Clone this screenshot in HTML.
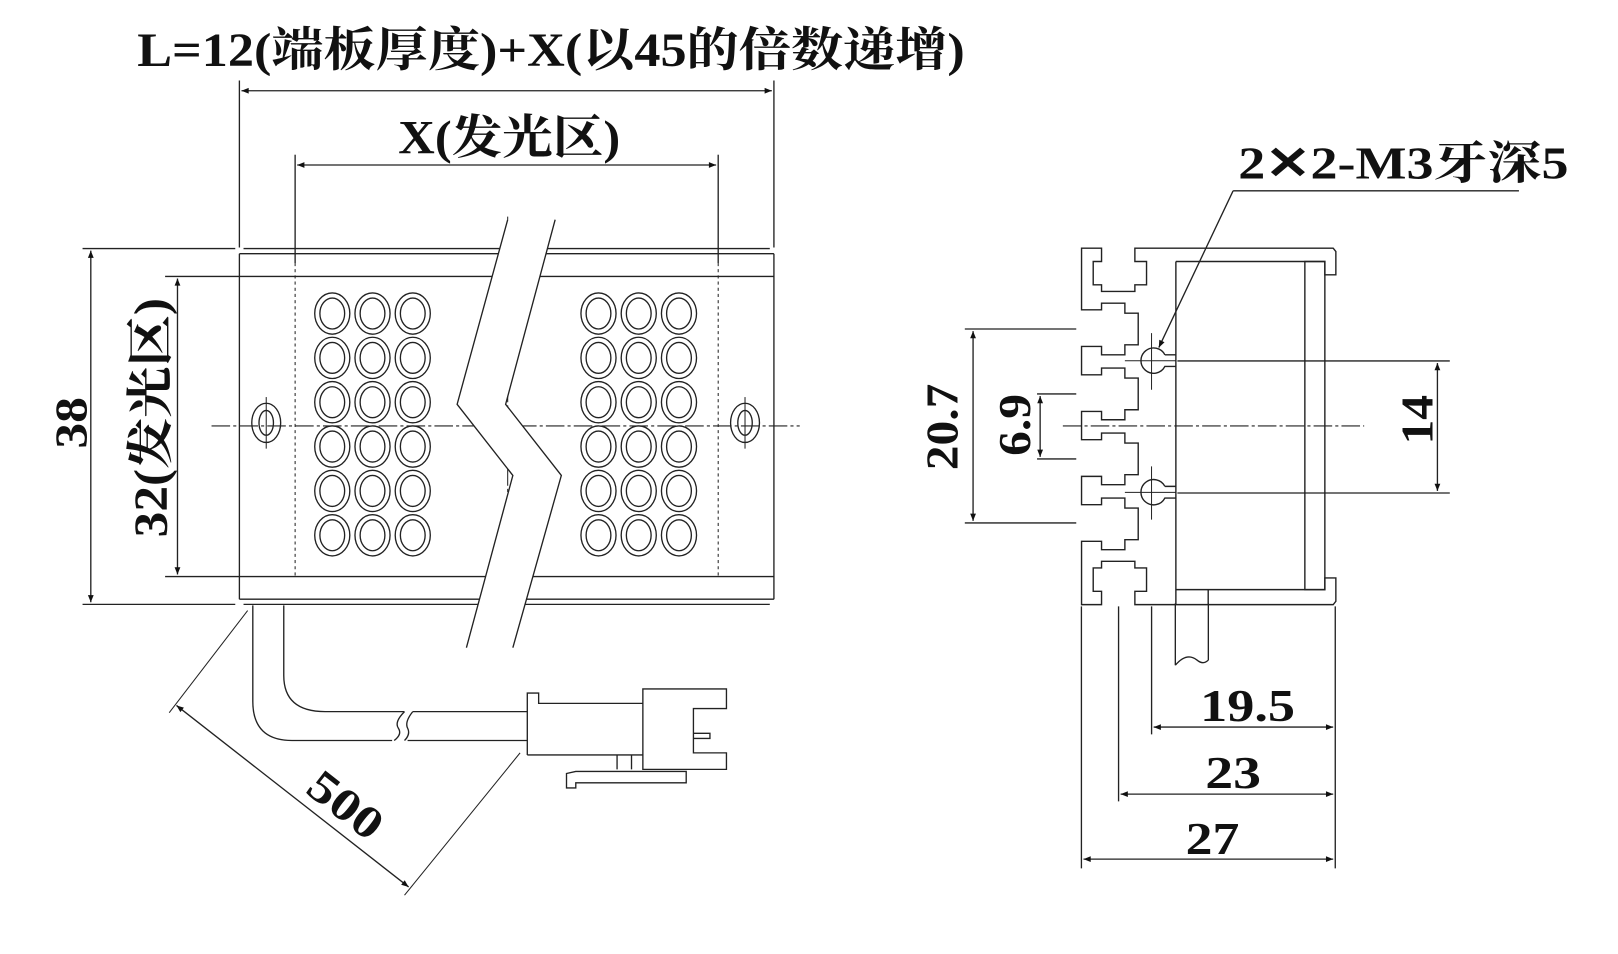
<!DOCTYPE html>
<html><head><meta charset="utf-8"><style>
html,body{margin:0;padding:0;background:#fff;}
svg{display:block;}
text{font-family:"Liberation Serif","Noto Serif CJK SC",serif;font-weight:bold;fill:#111;}
</style></head><body>
<svg width="1618" height="954" viewBox="0 0 1568 925" preserveAspectRatio="none" xmlns="http://www.w3.org/2000/svg">
<defs>
<marker id="a" viewBox="0 0 10 10" refX="10" refY="5" markerWidth="18" markerHeight="7" markerUnits="userSpaceOnUse" orient="auto-start-reverse"><path d="M0,1 L10,5 L0,9z" fill="#111"/></marker>
</defs>
<g fill="none" stroke="#222" stroke-width="1.3">
<line x1="232" y1="78" x2="232" y2="240"/><line x1="750" y1="78" x2="750" y2="240"/>
<line x1="234" y1="88" x2="748" y2="88" marker-start="url(#a)" marker-end="url(#a)"/>
<line x1="286" y1="150" x2="286" y2="255"/><line x1="696" y1="150" x2="696" y2="255"/>
<line x1="288" y1="160" x2="694" y2="160" marker-start="url(#a)" marker-end="url(#a)"/>
<path d="M232,246 L232,581 M750,246 L750,581"/>
<line x1="236" y1="241" x2="746" y2="241"/><line x1="232" y1="246" x2="750" y2="246"/>
<line x1="232" y1="581" x2="750" y2="581"/><line x1="236" y1="586" x2="746" y2="586"/>
<line x1="80" y1="241" x2="228" y2="241"/><line x1="80" y1="586" x2="228" y2="586"/>
<line x1="160" y1="268" x2="750" y2="268"/><line x1="160" y1="559" x2="750" y2="559"/>
<line x1="88" y1="243" x2="88" y2="584" marker-start="url(#a)" marker-end="url(#a)"/>
<line x1="172" y1="270" x2="172" y2="557" marker-start="url(#a)" marker-end="url(#a)"/>
<g stroke-dasharray="3,3" stroke-width="1"><line x1="286" y1="255" x2="286" y2="559"/><line x1="696" y1="255" x2="696" y2="559"/></g>
<line x1="205" y1="413" x2="775" y2="413" stroke-dasharray="18,3,3,3" stroke-width="1"/>
<line x1="492" y1="210" x2="492" y2="560" stroke-dasharray="18,3,3,3" stroke-width="1"/>
<ellipse cx="258" cy="410" rx="14" ry="19"/><ellipse cx="258" cy="410" rx="7" ry="12"/>
<ellipse cx="722" cy="410" rx="14" ry="19"/><ellipse cx="722" cy="410" rx="7" ry="12"/>
<line x1="258" y1="385" x2="258" y2="435" stroke-width="1"/><line x1="722" y1="385" x2="722" y2="435" stroke-width="1"/>
<g id="L">
<g id="c"><ellipse cx="322" cy="304" rx="17" ry="20"/><ellipse cx="322" cy="304" rx="12" ry="15"/></g>
<use href="#c" x="39"/><use href="#c" x="78"/>
</g>
<use href="#L" y="43"/><use href="#L" y="86"/><use href="#L" y="129"/><use href="#L" y="172"/><use href="#L" y="215"/>
<g transform="translate(258,0)">
<use href="#L"/><use href="#L" y="43"/><use href="#L" y="86"/><use href="#L" y="129"/><use href="#L" y="172"/><use href="#L" y="215"/>
</g>
<polygon points="492,213 538,213 490,392 544,461 497,628 452,628 497,461 443,392" fill="#fff" stroke="none"/>
<path d="M492,213 L443,392 L497,461 L452,628"/>
<path d="M538,213 L490,392 L544,461 L497,628"/>
<path d="M245,587 L245,680 Q245,718 283,718 L380,718"/>
<path d="M275,587 L275,655 Q275,690 315,690 L392,690"/>
<path d="M392,690 Q382,700 386,706 Q390,712 382,718"/>
<path d="M400,690 Q392,700 395,706 Q398,712 392,718"/>
<path d="M400,690 L511,690 M395,718 L511,718"/>
<path d="M511,732 L511,672 L522,672 L522,682 L623,682"/>
<path d="M511,732 L623,732"/>
<path d="M623,668 L704,668 L704,687 L672,687 L672,730 L704,730 L704,746 L623,746 Z"/>
<path d="M672,711 L688,711 L688,716 L672,716"/>
<path d="M598,732 L598,746 M612,732 L612,746"/>
<path d="M665,748 L558,748 L549,750 L549,764 L558,764 L558,759 L665,759 Z"/>
<line x1="240" y1="592" x2="164" y2="691" stroke-width="1"/>
<line x1="504" y1="730" x2="392" y2="868" stroke-width="1"/>
<line x1="171" y1="684" x2="396" y2="860" marker-start="url(#a)" marker-end="url(#a)"/>
</g>
<g fill="none" stroke="#222" stroke-width="4.2" transform="translate(1007.75,222.87) scale(0.323)">
<path d="M408,95 L855,95 L855,135 L888,135 L888,65 L880,55 L285,55 L285,95 L320,95 L320,165 L285,165 L285,185 L185,185 L185,165 L160,165 L160,95 L185,95 L185,55 L125,55 L125,240 L185,240 L185,220 L255,220 L255,250 L295,250 L295,345 L255,345 L255,375 L185,375 L185,350 L125,350 L125,435 L185,435 L185,415 L255,415 L255,445 L295,445 L295,540 L255,540 L255,570 L185,570 L185,545 L125,545 L125,630 L185,630 L185,610 L255,610 L255,640 L295,640 L295,735 L255,735 L255,765 L185,765 L185,740 L125,740 L125,825 L185,825 L185,805 L255,805 L255,835 L295,835 L295,930 L255,930 L255,960 L185,960 L185,935 L125,935 L125,1125 L185,1125 L185,1085 L160,1085 L160,1015 L185,1015 L185,995 L285,995 L285,1015 L320,1015 L320,1085 L285,1085 L285,1125 L880,1125 L888,1115 L888,1045 L855,1045 L855,1080 L408,1080"/>
<line x1="408" y1="95" x2="408" y2="1125"/>
<rect x="795" y="95" width="60" height="985"/>
<path d="M375,375 A38,38 0 1,0 375,410 L408,410 M375,375 L408,375"/>
<path d="M375,770 A38,38 0 1,0 375,805 L408,805 M375,770 L408,770"/>
<path d="M335,310 L335,480 M335,710 L335,870 M255,393 L410,393 M255,788 L410,788" stroke-width="3"/>
<line x1="505" y1="1080" x2="505" y2="1125"/>
</g>
<g fill="none" stroke="#222" stroke-width="1.3">
<path d="M1139,585 L1139,645 M1171,585 L1171,640 M1139,645 Q1150,632 1160,640 Q1166,645 1171,640"/>
<line x1="1141" y1="350" x2="1405" y2="350"/><line x1="1141" y1="478" x2="1405" y2="478"/>
<line x1="1393" y1="352" x2="1393" y2="476" marker-start="url(#a)" marker-end="url(#a)"/>
<line x1="1030" y1="413" x2="1322" y2="413" stroke-dasharray="18,3,3,3" stroke-width="1"/>
<line x1="935" y1="319" x2="1043" y2="319"/><line x1="935" y1="507" x2="1043" y2="507"/>
<line x1="943" y1="321" x2="943" y2="505" marker-start="url(#a)" marker-end="url(#a)"/>
<line x1="1005" y1="382" x2="1043" y2="382"/><line x1="1005" y1="445" x2="1043" y2="445"/>
<line x1="1008" y1="384" x2="1008" y2="443" marker-start="url(#a)" marker-end="url(#a)"/>
<line x1="1048" y1="588" x2="1048" y2="842"/>
<line x1="1084" y1="588" x2="1084" y2="777"/>
<line x1="1116" y1="588" x2="1116" y2="712"/>
<line x1="1294" y1="588" x2="1294" y2="842"/>
<line x1="1118" y1="705" x2="1292" y2="705" marker-start="url(#a)" marker-end="url(#a)"/>
<line x1="1086" y1="770" x2="1292" y2="770" marker-start="url(#a)" marker-end="url(#a)"/>
<line x1="1050" y1="833" x2="1292" y2="833" marker-start="url(#a)" marker-end="url(#a)"/>
<line x1="1195" y1="185" x2="1472" y2="185"/>
<line x1="1195" y1="185" x2="1123" y2="337" marker-end="url(#a)"/>
</g>
<text x="133" y="64" font-size="46" textLength="802" lengthAdjust="spacingAndGlyphs">L=12(端板厚度)+X(以45的倍数递增)</text>
<text x="386" y="149" font-size="46" textLength="215" lengthAdjust="spacingAndGlyphs">X(发光区)</text>
<text x="1200" y="173" font-size="44" textLength="320" lengthAdjust="spacingAndGlyphs">2✕2-M3牙深5</text>
<text transform="translate(84,410) rotate(-90)" font-size="44" text-anchor="middle" textLength="50" lengthAdjust="spacingAndGlyphs">38</text>
<text transform="translate(162,405) rotate(-90)" font-size="46" text-anchor="middle" textLength="232" lengthAdjust="spacingAndGlyphs">32(发光区)</text>
<text transform="translate(928,414) rotate(-90)" font-size="44" text-anchor="middle" textLength="84" lengthAdjust="spacingAndGlyphs">20.7</text>
<text transform="translate(998,412) rotate(-90)" font-size="44" text-anchor="middle" textLength="60" lengthAdjust="spacingAndGlyphs">6.9</text>
<text transform="translate(1388,407) rotate(-90)" font-size="44" text-anchor="middle" textLength="48" lengthAdjust="spacingAndGlyphs">14</text>
<text x="1209" y="699" font-size="44" text-anchor="middle" textLength="92" lengthAdjust="spacingAndGlyphs">19.5</text>
<text x="1195" y="764" font-size="44" text-anchor="middle" textLength="54" lengthAdjust="spacingAndGlyphs">23</text>
<text x="1175" y="828" font-size="44" text-anchor="middle" textLength="52" lengthAdjust="spacingAndGlyphs">27</text>
<text transform="translate(326,792) rotate(38)" font-size="44" text-anchor="middle" textLength="80" lengthAdjust="spacingAndGlyphs">500</text>
</svg>
</body></html>
